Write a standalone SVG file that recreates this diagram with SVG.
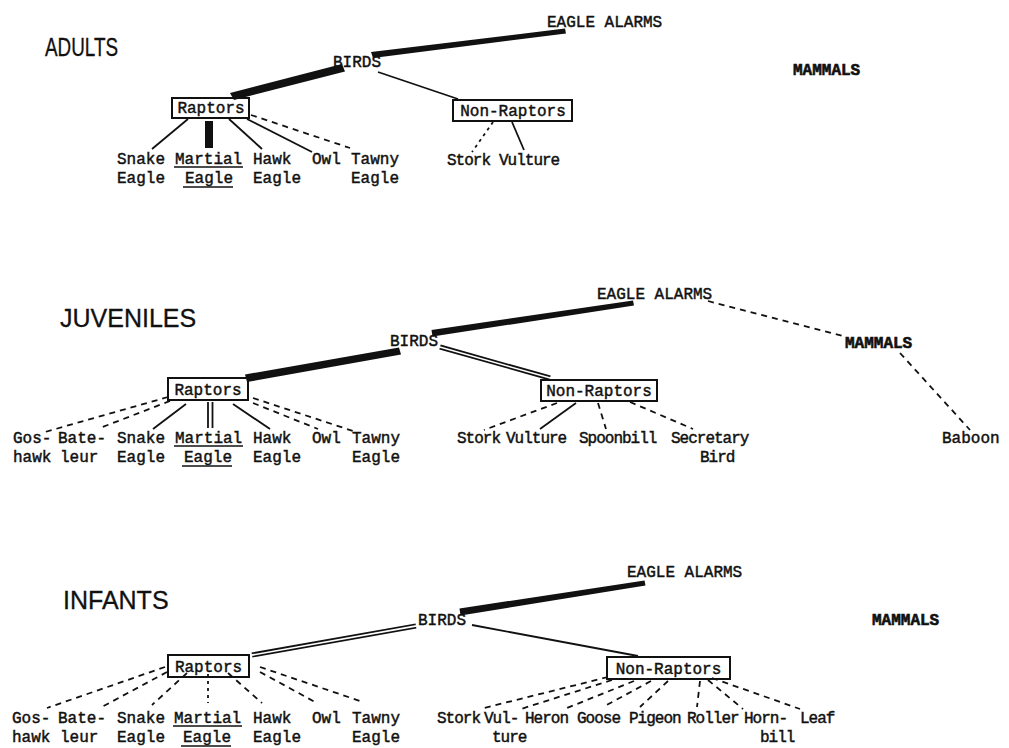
<svg xmlns="http://www.w3.org/2000/svg" width="1009" height="748" viewBox="0 0 1009 748">
<style>
.t{font-family:"Liberation Mono","DejaVu Sans Mono",monospace;font-size:16px;letter-spacing:0;fill:#111;stroke:#111;stroke-width:0.45}
.n{letter-spacing:-1px}
.m{font-weight:bold;stroke-width:0.6}
.h{font-family:"Liberation Sans",Arial,sans-serif;font-size:25px;fill:#111;stroke:#111;stroke-width:0.3}
.box{fill:none;stroke:#111;stroke-width:2}
.s{stroke:#111;stroke-width:1.8;fill:none}
.d{stroke:#111;stroke-width:1.8;stroke-dasharray:6 5;fill:none}
.dt{stroke:#111;stroke-width:1.8;stroke-dasharray:3 4;fill:none}
.w{fill:#111;stroke:none}
.dbl{stroke:#111;stroke-width:5;fill:none}
.dbi{stroke:#fff;stroke-width:1.6;fill:none}
.u{stroke:#111;stroke-width:1.5}
</style>
<rect width="1009" height="748" fill="#fff"/>

<g id="connectors">
  <!-- Adults -->
  <polygon class="w" points="371,52 565,28.5 566,33.5 373,58"/>
  <polygon class="w" points="342,64 345,71.5 234,100 230,93"/>
  <line class="s" x1="378" y1="72" x2="458" y2="99"/>
  <line class="s" x1="188" y1="119" x2="152" y2="149"/>
  <rect class="w" x="205" y="121" width="8" height="27"/>
  <line class="s" x1="229" y1="119" x2="262" y2="149"/>
  <line class="s" x1="247" y1="119" x2="312" y2="152"/>
  <line class="d" x1="251" y1="115" x2="350" y2="148"/>
  <line class="dt" x1="493" y1="122" x2="472" y2="152"/>
  <line class="s" x1="512" y1="122" x2="524" y2="150"/>

  <!-- Juveniles -->
  <polygon class="w" points="431.5,330 633,300.5 634,305.5 432.5,336.5"/>
  <polygon class="w" points="399,347.5 401,354.5 247,382 245,374.5"/>
  <line class="dbl" x1="440" y1="347" x2="550" y2="378"/>
  <line class="dbi" x1="438" y1="346.5" x2="552" y2="378.6"/>
  <line class="d" x1="708" y1="301" x2="843" y2="336"/>
  <line class="d" x1="900" y1="353" x2="970" y2="430"/>
  <line class="d" x1="168" y1="397" x2="45" y2="432"/>
  <line class="d" x1="170" y1="401" x2="100" y2="428"/>
  <line class="s" x1="186" y1="404" x2="153" y2="429"/>
  <line class="s" x1="208" y1="402" x2="208" y2="428"/>
  <line class="s" x1="212.5" y1="402" x2="212.5" y2="428"/>
  <line class="s" x1="233" y1="404" x2="270" y2="429"/>
  <line class="d" x1="253" y1="403" x2="318" y2="429"/>
  <line class="d" x1="253" y1="398" x2="353" y2="431"/>
  <line class="d" x1="557" y1="403" x2="484" y2="430"/>
  <line class="s" x1="576" y1="403" x2="540" y2="429"/>
  <line class="d" x1="598" y1="403" x2="606" y2="429"/>
  <line class="d" x1="630" y1="402" x2="693" y2="429"/>

  <!-- Infants -->
  <polygon class="w" points="459.5,608.5 644.5,580.5 645.5,585.5 460.5,615.5"/>
  <line class="dbl" x1="252" y1="655" x2="416" y2="626"/>
  <line class="dbi" x1="250" y1="655.4" x2="418" y2="625.6"/>
  <line class="s" x1="472" y1="625" x2="638" y2="656"/>
  <line class="d" x1="165" y1="667" x2="47" y2="708"/>
  <line class="d" x1="167" y1="672" x2="100" y2="708"/>
  <line class="d" x1="187" y1="673" x2="152" y2="705"/>
  <line class="dt" x1="208" y1="674" x2="208" y2="703"/>
  <line class="d" x1="228" y1="673" x2="262" y2="703"/>
  <line class="d" x1="260" y1="672" x2="315" y2="702"/>
  <line class="d" x1="260" y1="667" x2="363" y2="702"/>
  <line class="d" x1="608" y1="677" x2="480" y2="709"/>
  <line class="d" x1="612" y1="680" x2="521" y2="709"/>
  <line class="d" x1="634" y1="681" x2="567" y2="708"/>
  <line class="d" x1="651" y1="681" x2="603" y2="707"/>
  <line class="d" x1="668" y1="681" x2="640" y2="707"/>
  <line class="d" x1="700" y1="681" x2="697" y2="707"/>
  <line class="d" x1="708" y1="680" x2="743" y2="709"/>
  <line class="d" x1="712" y1="678" x2="800" y2="709"/>
</g>

<!-- ===== ADULTS ===== -->
<g id="adults-title"><text class="h" x="45" y="56" font-size="21" textLength="73" lengthAdjust="spacingAndGlyphs">ADULTS</text></g>
<g id="adults-eagle-alarms"><text class="t" x="547" y="27">EAGLE ALARMS</text></g>
<g id="adults-birds"><text class="t" x="333" y="67">BIRDS</text></g>
<g id="adults-mammals"><text class="t m" x="793" y="75">MAMMALS</text></g>
<g id="adults-raptors"><rect class="box" x="172" y="98" width="77" height="20"/><text class="t" x="211" y="113" text-anchor="middle">Raptors</text></g>
<g id="adults-nonraptors"><rect class="box" x="453" y="100" width="119" height="21"/><text class="t" x="513" y="115.5" text-anchor="middle">Non-Raptors</text></g>
<g id="adults-snake"><text class="t" x="117" y="164">Snake<tspan x="117" dy="19">Eagle</tspan></text></g>
<g id="adults-martial"><text class="t" x="175" y="164">Martial<tspan x="185" dy="19">Eagle</tspan></text><line class="u" x1="174" y1="167" x2="243" y2="167"/><line class="u" x1="183" y1="187" x2="233" y2="187"/></g>
<g id="adults-hawk"><text class="t" x="253" y="164">Hawk<tspan x="253" dy="19">Eagle</tspan></text></g>
<g id="adults-owl"><text class="t" x="312" y="164">Owl</text></g>
<g id="adults-tawny"><text class="t" x="351" y="164">Tawny<tspan x="351" dy="19">Eagle</tspan></text></g>
<g id="adults-stork"><text class="t n" x="447" y="165">Stork</text></g>
<g id="adults-vulture"><text class="t n" x="499" y="165">Vulture</text></g>

<!-- ===== JUVENILES ===== -->
<g id="juv-title"><text class="h" x="60" y="327">JUVENILES</text></g>
<g id="juv-eagle-alarms"><text class="t" x="597" y="299">EAGLE ALARMS</text></g>
<g id="juv-birds"><text class="t" x="390" y="346">BIRDS</text></g>
<g id="juv-mammals"><text class="t m" x="845" y="348">MAMMALS</text></g>
<g id="juv-raptors"><rect class="box" x="168" y="378" width="80" height="22"/><text class="t" x="208" y="394.5" text-anchor="middle">Raptors</text></g>
<g id="juv-nonraptors"><rect class="box" x="541" y="380" width="116" height="21"/><text class="t" x="599" y="395.5" text-anchor="middle">Non-Raptors</text></g>
<g id="juv-goshawk"><text class="t" x="13" y="443">Gos-<tspan x="13" dy="19">hawk</tspan></text></g>
<g id="juv-bateleur"><text class="t" x="58" y="443">Bate-<tspan x="60" dy="19">leur</tspan></text></g>
<g id="juv-snake"><text class="t" x="117" y="443">Snake<tspan x="117" dy="19">Eagle</tspan></text></g>
<g id="juv-martial"><text class="t" x="175" y="443">Martial<tspan x="184" dy="19">Eagle</tspan></text><line class="u" x1="174" y1="446" x2="243" y2="446"/><line class="u" x1="182" y1="466" x2="232" y2="466"/></g>
<g id="juv-hawk"><text class="t" x="253" y="443">Hawk<tspan x="253" dy="19">Eagle</tspan></text></g>
<g id="juv-owl"><text class="t" x="312" y="443">Owl</text></g>
<g id="juv-tawny"><text class="t" x="352" y="443">Tawny<tspan x="352" dy="19">Eagle</tspan></text></g>
<g id="juv-stork"><text class="t n" x="457" y="443">Stork</text></g>
<g id="juv-vulture"><text class="t n" x="506" y="443">Vulture</text></g>
<g id="juv-spoonbill"><text class="t n" x="579" y="443">Spoonbill</text></g>
<g id="juv-secretary"><text class="t n" x="671" y="443">Secretary<tspan x="700" dy="19">Bird</tspan></text></g>
<g id="juv-baboon"><text class="t" x="942" y="443">Baboon</text></g>

<!-- ===== INFANTS ===== -->
<g id="inf-title"><text class="h" x="63" y="609">INFANTS</text></g>
<g id="inf-eagle-alarms"><text class="t" x="627" y="577">EAGLE ALARMS</text></g>
<g id="inf-birds"><text class="t" x="418" y="625">BIRDS</text></g>
<g id="inf-mammals"><text class="t m" x="872" y="625">MAMMALS</text></g>
<g id="inf-raptors"><rect class="box" x="168" y="655" width="81" height="22"/><text class="t" x="208.5" y="671.5" text-anchor="middle">Raptors</text></g>
<g id="inf-nonraptors"><rect class="box" x="607" y="657" width="123" height="22"/><text class="t" x="668.5" y="673.5" text-anchor="middle">Non-Raptors</text></g>
<g id="inf-goshawk"><text class="t" x="12" y="723">Gos-<tspan x="12" dy="19">hawk</tspan></text></g>
<g id="inf-bateleur"><text class="t" x="58" y="723">Bate-<tspan x="60" dy="19">leur</tspan></text></g>
<g id="inf-snake"><text class="t" x="117" y="723">Snake<tspan x="117" dy="19">Eagle</tspan></text></g>
<g id="inf-martial"><text class="t" x="174" y="723">Martial<tspan x="183" dy="19">Eagle</tspan></text><line class="u" x1="173" y1="726" x2="242" y2="726"/><line class="u" x1="181" y1="746" x2="231" y2="746"/></g>
<g id="inf-hawk"><text class="t" x="253" y="723">Hawk<tspan x="253" dy="19">Eagle</tspan></text></g>
<g id="inf-owl"><text class="t" x="312" y="723">Owl</text></g>
<g id="inf-tawny"><text class="t" x="352" y="723">Tawny<tspan x="352" dy="19">Eagle</tspan></text></g>
<g id="inf-stork"><text class="t n" x="437" y="723">Stork</text></g>
<g id="inf-vulture"><text class="t n" x="484" y="723">Vul-<tspan x="492" dy="19">ture</tspan></text></g>
<g id="inf-heron"><text class="t n" x="525" y="723">Heron</text></g>
<g id="inf-goose"><text class="t n" x="577" y="723">Goose</text></g>
<g id="inf-pigeon"><text class="t n" x="629" y="723">Pigeon</text></g>
<g id="inf-roller"><text class="t n" x="687" y="723">Roller</text></g>
<g id="inf-hornbill"><text class="t n" x="744" y="723">Horn-<tspan x="760" dy="19">bill</tspan></text></g>
<g id="inf-leaf"><text class="t n" x="800" y="723">Leaf</text></g>
</svg>
